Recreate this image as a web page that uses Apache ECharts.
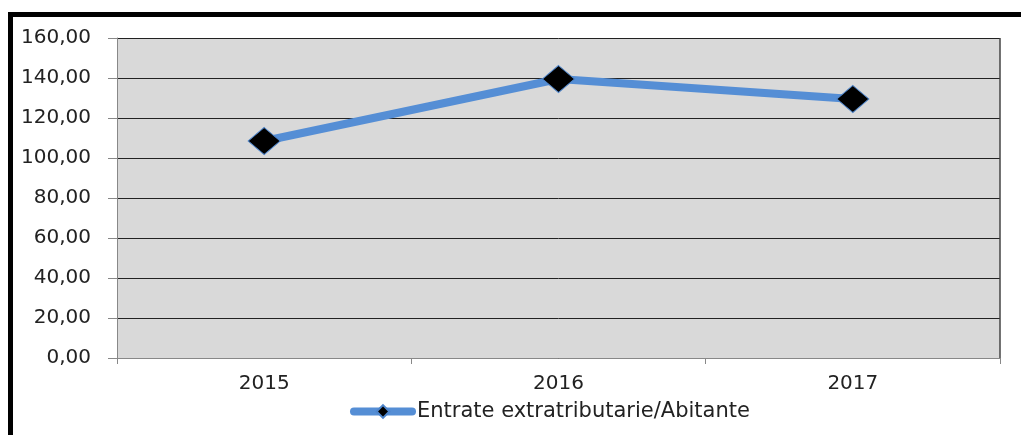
<!DOCTYPE html>
<html>
<head>
<meta charset="utf-8">
<script src="https://cdn.jsdelivr.net/npm/echarts@6/dist/echarts.min.js"></script>
<style>
  html, body { margin: 0; padding: 0; background: #fff; }
  #chart { width: 1021px; height: 435px; }
</style>
</head>
<body>
<div id="chart"></div>
<script>
const years = ['2015', '2016', '2017'];
const entrate = [108.5, 139.5, 129.5];
const seriesName = 'Entrate extratributarie/Abitante';

const chart = echarts.init(document.getElementById('chart'));

const fmt = (v) => v.toFixed(2).replace('.', ',');

chart.setOption({
  backgroundColor: '#fff',
  animation: false,
  graphic: [
    { type: 'rect', shape: { x: 8, y: 12, width: 1013, height: 5 }, style: { fill: '#000' } },
    { type: 'rect', shape: { x: 8, y: 12, width: 5, height: 423 }, style: { fill: '#000' } }
  ],
  grid: {
    left: 117, right: 21, top: 38, bottom: 77,
    show: true,
    backgroundColor: '#d9d9d9',
    borderColor: '#444',
    borderWidth: 0
  },
  legend: {
    top: 396,
    left: 345,
    itemWidth: 58,
    itemHeight: 16,
    itemGap: 4,
    textStyle: { fontFamily: 'DejaVu Sans', fontSize: 21, color: '#222' },
    lineStyle: { width: 8, cap: 'round', color: '#558ed5' },
    data: [seriesName]
  },
  xAxis: {
    type: 'category',
    data: years,
    boundaryGap: true,
    axisLine: { lineStyle: { color: '#888', width: 1 } },
    axisTick: { show: true, length: 6, lineStyle: { color: '#888' } },
    axisLabel: { fontFamily: 'DejaVu Sans', fontSize: 20, color: '#222', margin: 16 },
    splitLine: { show: false }
  },
  yAxis: {
    type: 'value',
    min: 0, max: 160, interval: 20,
    axisLine: { show: true, lineStyle: { color: '#888' } },
    axisTick: { show: true, length: 9, lineStyle: { color: '#888' } },
    axisLabel: { fontFamily: 'DejaVu Sans', fontSize: 20, color: '#222', margin: 26, formatter: fmt },
    splitLine: { show: true, lineStyle: { color: '#222', width: 1 } }
  },
  series: [{
    name: seriesName,
    type: 'line',
    data: entrate,
    symbol: 'diamond',
    symbolSize: [32, 27],
    itemStyle: { color: '#000', borderColor: '#4f86cc', borderWidth: 1 },
    lineStyle: { color: '#558ed5', width: 8, cap: 'round' },
    z: 3
  }, {
    type: 'line',
    data: [],
    markLine: {
      silent: true, symbol: 'none', label: { show: false },
      lineStyle: { color: '#444', width: 1.5, type: 'solid' },
      data: [[{ coord: ['2017', 0], x: 1000 }, { x: 1000, coord: ['2017', 160] }]]
    }
  }]
});
</script>
</body>
</html>
